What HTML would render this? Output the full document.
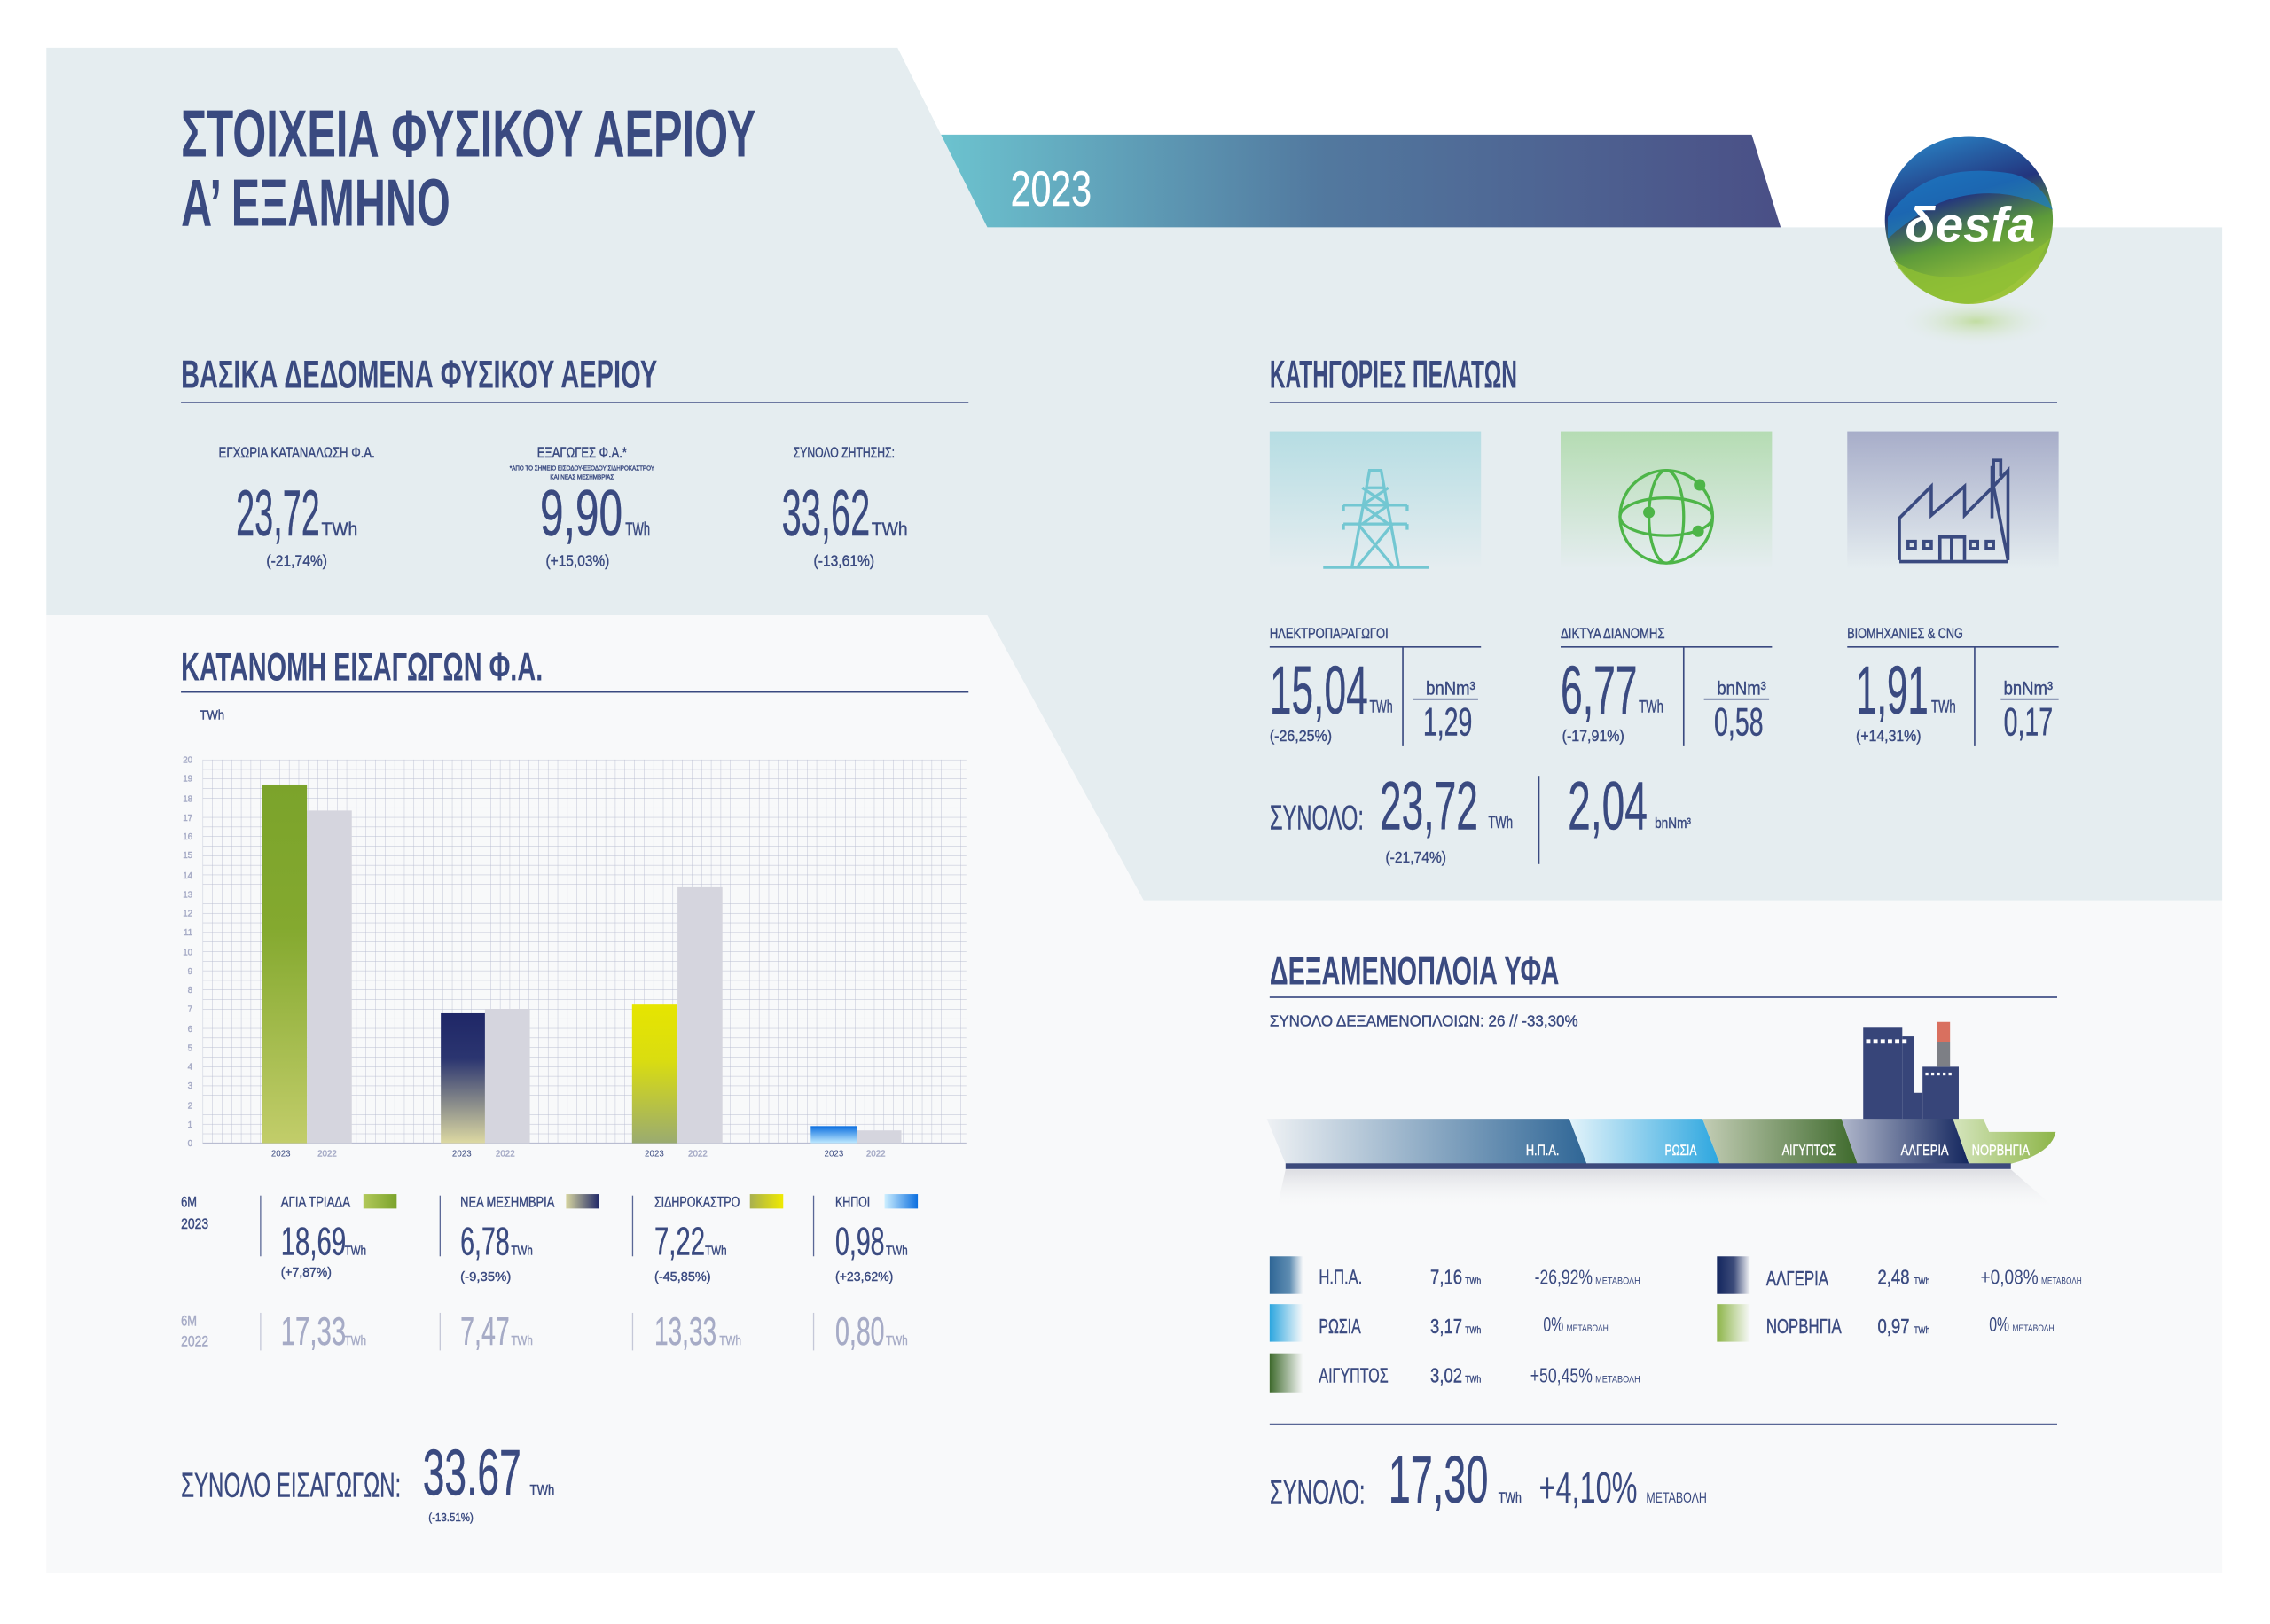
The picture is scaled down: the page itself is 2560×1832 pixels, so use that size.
<!DOCTYPE html>
<html><head><meta charset="utf-8"><style>
html,body{margin:0;padding:0;background:#fff}
svg{display:block}
text{font-family:"Liberation Sans","DejaVu Sans",sans-serif;fill:#3a4a80;stroke:#3a4a80;stroke-width:0.25}
.b{font-weight:bold;stroke-width:0}
.g{fill:#a6abc6;stroke:#a6abc6}
.w{fill:#fff;stroke:#fff}
.p{stroke:none}
</style></head><body>
<svg width="2560" height="1832" viewBox="0 0 1568 1122" preserveAspectRatio="none" xmlns="http://www.w3.org/2000/svg">
<defs>
<linearGradient id="rib" x1="0" x2="1"><stop offset="0" stop-color="#6cc3cf"/><stop offset="0.45" stop-color="#52799f"/><stop offset="1" stop-color="#4a4f86"/></linearGradient>
<linearGradient id="logo" x1="0" y1="0" x2="0.3" y2="1"><stop offset="0" stop-color="#2a8fd0"/><stop offset="0.45" stop-color="#23357e"/><stop offset="0.7" stop-color="#5c9a3a"/><stop offset="1" stop-color="#9cc43a"/></linearGradient>
<radialGradient id="shadow"><stop offset="0" stop-color="#b9d98e" stop-opacity="0.8"/><stop offset="1" stop-color="#e5edf0" stop-opacity="0"/></radialGradient>
<linearGradient id="box1" x1="0" y1="0" x2="0" y2="1"><stop offset="0" stop-color="#b6dde3"/><stop offset="1" stop-color="#e5edf0"/></linearGradient>
<linearGradient id="box2" x1="0" y1="0" x2="0" y2="1"><stop offset="0" stop-color="#b5dcb3"/><stop offset="1" stop-color="#e5edf0"/></linearGradient>
<linearGradient id="box3" x1="0" y1="0" x2="0" y2="1"><stop offset="0" stop-color="#a7adc9"/><stop offset="1" stop-color="#e5edf0"/></linearGradient>
<linearGradient id="bG" x1="0" y1="0" x2="0" y2="1"><stop offset="0" stop-color="#7ba32b"/><stop offset="0.4" stop-color="#84a92f"/><stop offset="1" stop-color="#c2cd6a"/></linearGradient>
<linearGradient id="bN" x1="0" y1="0" x2="0" y2="1"><stop offset="0" stop-color="#1f2767"/><stop offset="0.35" stop-color="#2b3570"/><stop offset="1" stop-color="#ddd9a2"/></linearGradient>
<linearGradient id="bY" x1="0" y1="0" x2="0" y2="1"><stop offset="0" stop-color="#e6e500"/><stop offset="0.4" stop-color="#dadd10"/><stop offset="1" stop-color="#9aab70"/></linearGradient>
<linearGradient id="bB" x1="0" y1="0" x2="0" y2="1"><stop offset="0" stop-color="#0b6fe0"/><stop offset="1" stop-color="#bfeaff"/></linearGradient>
<linearGradient id="sG" x1="0" x2="1"><stop offset="0" stop-color="#b2c95a"/><stop offset="1" stop-color="#7ba32b"/></linearGradient>
<linearGradient id="sN" x1="0" x2="1"><stop offset="0" stop-color="#d8d6a0"/><stop offset="1" stop-color="#1f2767"/></linearGradient>
<linearGradient id="sY" x1="0" x2="1"><stop offset="0" stop-color="#a8b050"/><stop offset="1" stop-color="#f0ea00"/></linearGradient>
<linearGradient id="sB" x1="0" x2="1"><stop offset="0" stop-color="#cdefff"/><stop offset="1" stop-color="#0b6fe0"/></linearGradient>
<linearGradient id="hUSA" x1="0" x2="1"><stop offset="0" stop-color="#eef1f4"/><stop offset="1" stop-color="#2f6696"/></linearGradient>
<linearGradient id="hRU" x1="0" x2="1"><stop offset="0" stop-color="#e3f3fa"/><stop offset="1" stop-color="#2ca6df"/></linearGradient>
<linearGradient id="hEG" x1="0" x2="1"><stop offset="0" stop-color="#c3cdb5"/><stop offset="1" stop-color="#3e6a2c"/></linearGradient>
<linearGradient id="hAL" x1="0" x2="1"><stop offset="0" stop-color="#b0b7cb"/><stop offset="1" stop-color="#13265e"/></linearGradient>
<linearGradient id="hNO" x1="0" x2="1"><stop offset="0" stop-color="#d5e5bd"/><stop offset="1" stop-color="#8db548"/></linearGradient>
<linearGradient id="refl" x1="0" y1="0" x2="0" y2="1"><stop offset="0" stop-color="#dcdde2"/><stop offset="1" stop-color="#f8f9fa" stop-opacity="0"/></linearGradient>
<linearGradient id="lUSA" x1="0" x2="1"><stop offset="0" stop-color="#2f6696"/><stop offset="0.6" stop-color="#5f8db2"/><stop offset="1" stop-color="#f8f9fa"/></linearGradient>
<linearGradient id="lRU" x1="0" x2="1"><stop offset="0" stop-color="#2ca6df"/><stop offset="1" stop-color="#f8f9fa"/></linearGradient>
<linearGradient id="lEG" x1="0" x2="1"><stop offset="0" stop-color="#3e6a2c"/><stop offset="1" stop-color="#f8f9fa"/></linearGradient>
<linearGradient id="lAL" x1="0" x2="1"><stop offset="0" stop-color="#13265e"/><stop offset="0.5" stop-color="#3c4b7a"/><stop offset="1" stop-color="#f8f9fa"/></linearGradient>
<linearGradient id="lNO" x1="0" x2="1"><stop offset="0" stop-color="#8db548"/><stop offset="1" stop-color="#f8f9fa"/></linearGradient>
<pattern id="grid" x="140" y="524.8" width="6.625" height="6.625" patternUnits="userSpaceOnUse"><path d="M0 0H6.625M0 0V6.625" stroke="#b9bdd1" stroke-width="0.55" fill="none"/></pattern>
</defs>

<rect x="32" y="425" width="1503" height="662" fill="#f8f9fa"/>
<polygon points="32,33 620,33 682,157 1535,157 1535,622 790,622 682,425 32,425" fill="#e5edf0"/>
<polygon points="650,93 1210,93 1230,157 682,157" fill="url(#rib)"/>
<text x="698" y="142" font-size="34" class="w" textLength="56" lengthAdjust="spacingAndGlyphs">2023</text>

<text x="125" y="108" font-size="46" class="b" textLength="397" lengthAdjust="spacingAndGlyphs">ΣΤΟΙΧΕΙΑ ΦΥΣΙΚΟΥ ΑΕΡΙΟΥ</text>
<text x="125" y="156" font-size="46" class="b" textLength="186" lengthAdjust="spacingAndGlyphs">Α’ ΕΞΑΜΗΝΟ</text>

<ellipse cx="1365" cy="222" rx="55" ry="18" fill="url(#shadow)"/>
<circle cx="1360" cy="152" r="58" fill="url(#logo)"/>
<path d="M1304 150 Q1330 110 1390 120 Q1410 125 1418 145 Q1380 125 1340 140 Q1320 150 1304 165 Z" fill="#1a7cc8" opacity="0.7"/>
<path d="M1308 180 Q1340 200 1380 185 Q1405 175 1416 165 Q1400 200 1360 210 Q1325 208 1308 180Z" fill="#8fbf35" opacity="0.8"/>
<text x="1316" y="167" font-size="34" class="w b" font-style="italic" textLength="90" lengthAdjust="spacingAndGlyphs">δesfa</text>

<text x="125" y="268" font-size="27" class="b" textLength="329" lengthAdjust="spacingAndGlyphs">ΒΑΣΙΚΑ ΔΕΔΟΜΕΝΑ ΦΥΣΙΚΟΥ ΑΕΡΙΟΥ</text>
<line x1="125" y1="278" x2="669" y2="278" stroke="#5a6796" stroke-width="1.2"/>
<text x="877" y="268" font-size="27" class="b" textLength="171" lengthAdjust="spacingAndGlyphs">ΚΑΤΗΓΟΡΙΕΣ ΠΕΛΑΤΩΝ</text>
<line x1="877" y1="278" x2="1421" y2="278" stroke="#5a6796" stroke-width="1.2"/>
<text x="125" y="470" font-size="27" class="b" textLength="250" lengthAdjust="spacingAndGlyphs">ΚΑΤΑΝΟΜΗ ΕΙΣΑΓΩΓΩΝ Φ.Α.</text>
<line x1="125" y1="478" x2="669" y2="478" stroke="#3a4a80" stroke-width="1.2"/>
<text x="877" y="680" font-size="27" class="b" textLength="200" lengthAdjust="spacingAndGlyphs">ΔΕΞΑΜΕΝΟΠΛΟΙΑ ΥΦΑ</text>
<line x1="877" y1="689" x2="1421" y2="689" stroke="#5a6796" stroke-width="1.2"/>

<text x="205" y="316" font-size="10" text-anchor="middle" textLength="108" lengthAdjust="spacingAndGlyphs">ΕΓΧΩΡΙΑ ΚΑΤΑΝΑΛΩΣΗ Φ.Α.</text>
<text x="402" y="316" font-size="10" text-anchor="middle" textLength="62" lengthAdjust="spacingAndGlyphs">ΕΞΑΓΩΓΕΣ Φ.Α.*</text>
<text x="402" y="325" font-size="4.5" text-anchor="middle" textLength="100" lengthAdjust="spacingAndGlyphs">*ΑΠΟ ΤΟ ΣΗΜΕΙΟ ΕΙΣΟΔΟΥ-ΕΞΟΔΟΥ ΣΙΔΗΡΟΚΑΣΤΡΟΥ</text>
<text x="402" y="331" font-size="4.5" text-anchor="middle" textLength="44" lengthAdjust="spacingAndGlyphs">ΚΑΙ ΝΕΑΣ ΜΕΣΗΜΒΡΙΑΣ</text>
<text x="583" y="316" font-size="10" text-anchor="middle" textLength="70" lengthAdjust="spacingAndGlyphs">ΣΥΝΟΛΟ ΖΗΤΗΣΗΣ:</text>
<text x="163" y="370" font-size="45" textLength="58" lengthAdjust="spacingAndGlyphs">23,72</text>
<text x="222" y="370" font-size="13" textLength="25" lengthAdjust="spacingAndGlyphs">TWh</text>
<text x="373" y="370" font-size="45" textLength="57" lengthAdjust="spacingAndGlyphs">9,90</text>
<text x="432" y="370" font-size="13" textLength="17" lengthAdjust="spacingAndGlyphs">TWh</text>
<text x="540" y="370" font-size="45" textLength="61" lengthAdjust="spacingAndGlyphs">33,62</text>
<text x="602" y="370" font-size="13" textLength="25" lengthAdjust="spacingAndGlyphs">TWh</text>
<text x="205" y="391" font-size="11" text-anchor="middle" textLength="42" lengthAdjust="spacingAndGlyphs">(-21,74%)</text>
<text x="399" y="391" font-size="11" text-anchor="middle" textLength="44" lengthAdjust="spacingAndGlyphs">(+15,03%)</text>
<text x="583" y="391" font-size="11" text-anchor="middle" textLength="42" lengthAdjust="spacingAndGlyphs">(-13,61%)</text>

<rect x="877" y="298" width="146" height="95" fill="url(#box1)"/>
<rect x="1078" y="298" width="146" height="95" fill="url(#box2)"/>
<rect x="1276" y="298" width="146" height="95" fill="url(#box3)"/>
<g stroke="#73c7d2" stroke-width="2" fill="none">
<path d="M914 392H987M934 391L946 325H954L966 391M943 337H957M928 349H972M928 362H972M941 349L959 362M959 349L941 362M941 337L959 349M959 337L941 349M938 362L962 391M962 362L938 391M928 349v4M972 349v4M928 362v4M972 362v4"/>
</g>
<g stroke="#4db548" stroke-width="2" fill="none">
<circle cx="1151" cy="357" r="32"/>
<ellipse cx="1151" cy="357" rx="32" ry="13"/>
<ellipse cx="1151" cy="357" rx="12" ry="32"/>
</g>
<g fill="#4db548"><circle cx="1174" cy="335" r="4"/><circle cx="1139" cy="354" r="4"/><circle cx="1173" cy="367" r="4"/></g>
<g stroke="#3a4a80" stroke-width="2.2" fill="none">
<path d="M1312 387V358L1334 336V356L1357 336V356L1377 336V329M1377 336L1387 325V387Z M1377 329V318H1382V329"/>
<path d="M1376 358V322"/>
<rect x="1318" y="374" width="5" height="5"/><rect x="1329" y="374" width="5" height="5"/><rect x="1361" y="374" width="5" height="5"/><rect x="1372" y="374" width="5" height="5"/>
<path d="M1340 387V371H1357V387M1348 371V387"/>
</g>
<line x1="1312" y1="388" x2="1387" y2="388" stroke="#3a4a80" stroke-width="2.2"/>

<text x="877" y="441" font-size="10" textLength="82" lengthAdjust="spacingAndGlyphs">ΗΛΕΚΤΡΟΠΑΡΑΓΩΓΟΙ</text>
<text x="1078" y="441" font-size="10" textLength="72" lengthAdjust="spacingAndGlyphs">ΔΙΚΤΥΑ ΔΙΑΝΟΜΗΣ</text>
<text x="1276" y="441" font-size="10" textLength="80" lengthAdjust="spacingAndGlyphs">ΒΙΟΜΗΧΑΝΙΕΣ &amp; CNG</text>
<g stroke="#3a4a80" stroke-width="1">
<line x1="877" y1="447" x2="1023" y2="447"/><line x1="1078" y1="447" x2="1224" y2="447"/><line x1="1276" y1="447" x2="1422" y2="447"/>
<line x1="969" y1="447" x2="969" y2="515"/><line x1="1163" y1="447" x2="1163" y2="515"/><line x1="1364" y1="447" x2="1364" y2="515"/>
<line x1="976" y1="483" x2="1021" y2="483"/><line x1="1177" y1="483" x2="1222" y2="483"/><line x1="1382" y1="483" x2="1422" y2="483"/>
<line x1="1063" y1="536" x2="1063" y2="597"/>
</g>
<text x="877" y="493" font-size="47" textLength="68" lengthAdjust="spacingAndGlyphs">15,04</text>
<text x="946" y="492" font-size="12" textLength="16" lengthAdjust="spacingAndGlyphs">TWh</text>
<text x="1078" y="493" font-size="47" textLength="53" lengthAdjust="spacingAndGlyphs">6,77</text>
<text x="1132" y="492" font-size="12" textLength="17" lengthAdjust="spacingAndGlyphs">TWh</text>
<text x="1282" y="493" font-size="47" textLength="50" lengthAdjust="spacingAndGlyphs">1,91</text>
<text x="1334" y="492" font-size="12" textLength="17" lengthAdjust="spacingAndGlyphs">TWh</text>
<text x="877" y="512" font-size="11" textLength="43" lengthAdjust="spacingAndGlyphs">(-26,25%)</text>
<text x="1079" y="512" font-size="11" textLength="43" lengthAdjust="spacingAndGlyphs">(-17,91%)</text>
<text x="1282" y="512" font-size="11" textLength="45" lengthAdjust="spacingAndGlyphs">(+14,31%)</text>
<text x="985" y="480" font-size="13" textLength="34" lengthAdjust="spacingAndGlyphs">bnNm³</text>
<text x="1186" y="480" font-size="13" textLength="34" lengthAdjust="spacingAndGlyphs">bnNm³</text>
<text x="1384" y="480" font-size="13" textLength="34" lengthAdjust="spacingAndGlyphs">bnNm³</text>
<text x="983" y="508" font-size="27" textLength="34" lengthAdjust="spacingAndGlyphs">1,29</text>
<text x="1184" y="508" font-size="27" textLength="34" lengthAdjust="spacingAndGlyphs">0,58</text>
<text x="1384" y="508" font-size="27" textLength="34" lengthAdjust="spacingAndGlyphs">0,17</text>
<text x="877" y="573" font-size="24" textLength="65" lengthAdjust="spacingAndGlyphs">ΣΥΝΟΛΟ:</text>
<text x="953" y="573" font-size="47" textLength="68" lengthAdjust="spacingAndGlyphs">23,72</text>
<text x="1028" y="572" font-size="12" textLength="17" lengthAdjust="spacingAndGlyphs">TWh</text>
<text x="957" y="596" font-size="11" textLength="42" lengthAdjust="spacingAndGlyphs">(-21,74%)</text>
<text x="1083" y="573" font-size="47" textLength="55" lengthAdjust="spacingAndGlyphs">2,04</text>
<text x="1143" y="572" font-size="10" textLength="25" lengthAdjust="spacingAndGlyphs">bnNm³</text>

<text x="138" y="497" font-size="9" textLength="17" lengthAdjust="spacingAndGlyphs">TWh</text>
<rect x="140" y="524.8" width="527.5" height="265" fill="url(#grid)"/>
<line x1="140" y1="789.8" x2="667.5" y2="789.8" stroke="#b9bdd1" stroke-width="0.8"/>
<g font-size="6" text-anchor="end">
<text x="133" y="792" class="g">0</text><text x="133" y="779" class="g">1</text><text x="133" y="766" class="g">2</text><text x="133" y="752" class="g">3</text><text x="133" y="739" class="g">4</text><text x="133" y="726" class="g">5</text><text x="133" y="713" class="g">6</text><text x="133" y="699" class="g">7</text><text x="133" y="686" class="g">8</text><text x="133" y="673" class="g">9</text><text x="133" y="660" class="g">10</text><text x="133" y="646" class="g">11</text><text x="133" y="633" class="g">12</text><text x="133" y="620" class="g">13</text><text x="133" y="607" class="g">14</text><text x="133" y="593" class="g">15</text><text x="133" y="580" class="g">16</text><text x="133" y="567" class="g">17</text><text x="133" y="554" class="g">18</text><text x="133" y="540" class="g">19</text><text x="133" y="527" class="g">20</text>
</g>
<rect x="181" y="542" width="31" height="247.8" fill="url(#bG)"/>
<rect x="212" y="560" width="31" height="229.8" fill="#d5d5de"/>
<rect x="304.5" y="700" width="30.5" height="89.8" fill="url(#bN)"/>
<rect x="335" y="697" width="31" height="92.8" fill="#d5d5de"/>
<rect x="436.6" y="694" width="31.4" height="95.8" fill="url(#bY)"/>
<rect x="468" y="613" width="31" height="176.8" fill="#d5d5de"/>
<rect x="560" y="778" width="32" height="11.8" fill="url(#bB)"/>
<rect x="592" y="781" width="30.6" height="8.8" fill="#d5d5de"/>
<g font-size="6" text-anchor="middle">
<text x="194" y="799" class="p" fill="#6a7299">2023</text><text x="226" y="799" class="g">2022</text>
<text x="319" y="799" class="p" fill="#6a7299">2023</text><text x="349" y="799" class="g">2022</text>
<text x="452" y="799" class="p" fill="#6a7299">2023</text><text x="482" y="799" class="g">2022</text>
<text x="576" y="799" class="p" fill="#6a7299">2023</text><text x="605" y="799" class="g">2022</text>
</g>

<text x="125" y="834" font-size="10" textLength="11" lengthAdjust="spacingAndGlyphs">6M</text>
<text x="125" y="849" font-size="10" textLength="19" lengthAdjust="spacingAndGlyphs">2023</text>
<text x="125" y="916" font-size="10" class="g" textLength="11" lengthAdjust="spacingAndGlyphs">6M</text>
<text x="125" y="930" font-size="10" class="g" textLength="19" lengthAdjust="spacingAndGlyphs">2022</text>
<g stroke="#5a6796" stroke-width="0.8">
<line x1="180" y1="826" x2="180" y2="868"/><line x1="304" y1="826" x2="304" y2="868"/><line x1="437" y1="826" x2="437" y2="868"/><line x1="562" y1="826" x2="562" y2="868"/>
</g>
<g stroke="#c5c8d8" stroke-width="0.8">
<line x1="180" y1="907" x2="180" y2="933"/><line x1="304" y1="907" x2="304" y2="933"/><line x1="437" y1="907" x2="437" y2="933"/><line x1="562" y1="907" x2="562" y2="933"/>
</g>
<text x="194" y="834" font-size="10" textLength="48" lengthAdjust="spacingAndGlyphs">ΑΓΙΑ ΤΡΙΑΔΑ</text>
<rect x="251" y="825" width="23" height="10" fill="url(#sG)"/>
<text x="318" y="834" font-size="10" textLength="65" lengthAdjust="spacingAndGlyphs">ΝΕΑ ΜΕΣΗΜΒΡΙΑ</text>
<rect x="391" y="825" width="23" height="10" fill="url(#sN)"/>
<text x="452" y="834" font-size="10" textLength="59" lengthAdjust="spacingAndGlyphs">ΣΙΔΗΡΟΚΑΣΤΡΟ</text>
<rect x="518" y="825" width="23" height="10" fill="url(#sY)"/>
<text x="577" y="834" font-size="10" textLength="24" lengthAdjust="spacingAndGlyphs">ΚΗΠΟΙ</text>
<rect x="611" y="825" width="23" height="10" fill="url(#sB)"/>

<text x="194" y="867" font-size="27" textLength="45" lengthAdjust="spacingAndGlyphs">18,69</text><text x="238" y="867" font-size="9" textLength="15" lengthAdjust="spacingAndGlyphs">TWh</text>
<text x="318" y="867" font-size="27" textLength="34" lengthAdjust="spacingAndGlyphs">6,78</text><text x="353" y="867" font-size="9" textLength="15" lengthAdjust="spacingAndGlyphs">TWh</text>
<text x="452" y="867" font-size="27" textLength="35" lengthAdjust="spacingAndGlyphs">7,22</text><text x="487" y="867" font-size="9" textLength="15" lengthAdjust="spacingAndGlyphs">TWh</text>
<text x="577" y="867" font-size="27" textLength="34" lengthAdjust="spacingAndGlyphs">0,98</text><text x="612" y="867" font-size="9" textLength="15" lengthAdjust="spacingAndGlyphs">TWh</text>
<text x="194" y="882" font-size="9" textLength="35" lengthAdjust="spacingAndGlyphs">(+7,87%)</text>
<text x="318" y="885" font-size="9" textLength="35" lengthAdjust="spacingAndGlyphs">(-9,35%)</text>
<text x="452" y="885" font-size="9" textLength="39" lengthAdjust="spacingAndGlyphs">(-45,85%)</text>
<text x="577" y="885" font-size="9" textLength="40" lengthAdjust="spacingAndGlyphs">(+23,62%)</text>

<text x="194" y="929" font-size="27" class="g" textLength="45" lengthAdjust="spacingAndGlyphs">17,33</text><text x="238" y="929" font-size="9" class="g" textLength="15" lengthAdjust="spacingAndGlyphs">TWh</text>
<text x="318" y="929" font-size="27" class="g" textLength="34" lengthAdjust="spacingAndGlyphs">7,47</text><text x="353" y="929" font-size="9" class="g" textLength="15" lengthAdjust="spacingAndGlyphs">TWh</text>
<text x="452" y="929" font-size="27" class="g" textLength="43" lengthAdjust="spacingAndGlyphs">13,33</text><text x="497" y="929" font-size="9" class="g" textLength="15" lengthAdjust="spacingAndGlyphs">TWh</text>
<text x="577" y="929" font-size="27" class="g" textLength="34" lengthAdjust="spacingAndGlyphs">0,80</text><text x="612" y="929" font-size="9" class="g" textLength="15" lengthAdjust="spacingAndGlyphs">TWh</text>

<text x="125" y="1034" font-size="24" textLength="152" lengthAdjust="spacingAndGlyphs">ΣΥΝΟΛΟ ΕΙΣΑΓΩΓΩΝ:</text>
<text x="292" y="1033" font-size="45" textLength="68" lengthAdjust="spacingAndGlyphs">33.67</text>
<text x="366" y="1033" font-size="10" textLength="17" lengthAdjust="spacingAndGlyphs">TWh</text>
<text x="296" y="1051" font-size="8" textLength="31" lengthAdjust="spacingAndGlyphs">(-13.51%)</text>

<text x="877" y="709" font-size="11" textLength="213" lengthAdjust="spacingAndGlyphs">ΣΥΝΟΛΟ ΔΕΞΑΜΕΝΟΠΛΟΙΩΝ: 26   //   -33,30%</text>
<g fill="#374579">
<rect x="1287" y="710" width="27" height="64"/>
<rect x="1314" y="716" width="8" height="58"/>
<rect x="1322" y="755" width="6" height="19"/>
<rect x="1328" y="737" width="25" height="37"/>
</g>
<rect x="1338" y="706" width="9" height="14" fill="#d9705f"/>
<rect x="1338" y="720" width="9" height="17" fill="#7d7f85"/>
<g fill="#fff">
<rect x="1289" y="718" width="3" height="3"/><rect x="1294" y="718" width="3" height="3"/><rect x="1299" y="718" width="3" height="3"/><rect x="1304" y="718" width="3" height="3"/><rect x="1309" y="718" width="3" height="3"/><rect x="1314" y="718" width="3" height="3"/>
<rect x="1330" y="741" width="2" height="2"/><rect x="1334" y="741" width="2" height="2"/><rect x="1338" y="741" width="2" height="2"/><rect x="1342" y="741" width="2" height="2"/><rect x="1346" y="741" width="2" height="2"/>
</g>
<polygon points="888,808 1389,808 1420,835 882,835" fill="url(#refl)"/>
<polygon points="875,773 1084,773 1096,804 888,804" fill="url(#hUSA)"/>
<polygon points="1084,773 1176,773 1188,804 1096,804" fill="url(#hRU)"/>
<polygon points="1176,773 1272,773 1283,804 1188,804" fill="url(#hEG)"/>
<polygon points="1272,773 1349,773 1360,804 1283,804" fill="url(#hAL)"/>
<path d="M1349,773 L1370,773 L1374,782 L1420,782 Q1417,797 1389,804 L1360,804 Z" fill="url(#hNO)"/>
<rect x="888" y="803.7" width="501" height="4" fill="#3c4a7c"/>
<g font-size="10" text-anchor="end">
<text x="1077" y="798" class="w" textLength="23" lengthAdjust="spacingAndGlyphs">Η.Π.Α.</text>
<text x="1172" y="798" class="w" textLength="22" lengthAdjust="spacingAndGlyphs">ΡΩΣΙΑ</text>
<text x="1268" y="798" class="w" textLength="37" lengthAdjust="spacingAndGlyphs">ΑΙΓΥΠΤΟΣ</text>
<text x="1346" y="798" class="w" textLength="33" lengthAdjust="spacingAndGlyphs">ΑΛΓΕΡΙΑ</text>
<text x="1402" y="798" class="w" textLength="40" lengthAdjust="spacingAndGlyphs">ΝΟΡΒΗΓΙΑ</text>
</g>

<rect x="877" y="868" width="23" height="26" fill="url(#lUSA)"/>
<rect x="877" y="901" width="23" height="26" fill="url(#lRU)"/>
<rect x="877" y="935" width="23" height="27" fill="url(#lEG)"/>
<rect x="1186" y="868" width="23" height="26" fill="url(#lAL)"/>
<rect x="1186" y="901" width="23" height="26" fill="url(#lNO)"/>
<text x="911" y="887" font-size="14" textLength="30" lengthAdjust="spacingAndGlyphs">Η.Π.Α.</text>
<text x="911" y="921" font-size="14" textLength="29" lengthAdjust="spacingAndGlyphs">ΡΩΣΙΑ</text>
<text x="911" y="955" font-size="14" textLength="48" lengthAdjust="spacingAndGlyphs">ΑΙΓΥΠΤΟΣ</text>
<text x="1220" y="888" font-size="14" textLength="43" lengthAdjust="spacingAndGlyphs">ΑΛΓΕΡΙΑ</text>
<text x="1220" y="921" font-size="14" textLength="52" lengthAdjust="spacingAndGlyphs">ΝΟΡΒΗΓΙΑ</text>
<text x="988" y="887" font-size="14" textLength="22" lengthAdjust="spacingAndGlyphs">7,16</text><text x="1012" y="887" font-size="7" textLength="11" lengthAdjust="spacingAndGlyphs">TWh</text>
<text x="988" y="921" font-size="14" textLength="22" lengthAdjust="spacingAndGlyphs">3,17</text><text x="1012" y="921" font-size="7" textLength="11" lengthAdjust="spacingAndGlyphs">TWh</text>
<text x="988" y="955" font-size="14" textLength="22" lengthAdjust="spacingAndGlyphs">3,02</text><text x="1012" y="955" font-size="7" textLength="11" lengthAdjust="spacingAndGlyphs">TWh</text>
<text x="1297" y="887" font-size="14" textLength="22" lengthAdjust="spacingAndGlyphs">2,48</text><text x="1322" y="887" font-size="7" textLength="11" lengthAdjust="spacingAndGlyphs">TWh</text>
<text x="1297" y="921" font-size="14" textLength="22" lengthAdjust="spacingAndGlyphs">0,97</text><text x="1322" y="921" font-size="7" textLength="11" lengthAdjust="spacingAndGlyphs">TWh</text>
<text x="1060" y="887" font-size="14" class="p" fill="#8a90b5" textLength="40" lengthAdjust="spacingAndGlyphs">-26,92%</text><text x="1102" y="887" font-size="6.5" class="p" fill="#8a90b5" textLength="31" lengthAdjust="spacingAndGlyphs">ΜΕΤΑΒΟΛΗ</text>
<text x="1066" y="920" font-size="14" class="p" fill="#8a90b5" textLength="14" lengthAdjust="spacingAndGlyphs">0%</text><text x="1082" y="920" font-size="6.5" class="p" fill="#8a90b5" textLength="29" lengthAdjust="spacingAndGlyphs">ΜΕΤΑΒΟΛΗ</text>
<text x="1057" y="955" font-size="14" class="p" fill="#8a90b5" textLength="43" lengthAdjust="spacingAndGlyphs">+50,45%</text><text x="1102" y="955" font-size="6.5" class="p" fill="#8a90b5" textLength="31" lengthAdjust="spacingAndGlyphs">ΜΕΤΑΒΟΛΗ</text>
<text x="1368" y="887" font-size="14" class="p" fill="#8a90b5" textLength="40" lengthAdjust="spacingAndGlyphs">+0,08%</text><text x="1410" y="887" font-size="6.5" class="p" fill="#8a90b5" textLength="28" lengthAdjust="spacingAndGlyphs">ΜΕΤΑΒΟΛΗ</text>
<text x="1374" y="920" font-size="14" class="p" fill="#8a90b5" textLength="14" lengthAdjust="spacingAndGlyphs">0%</text><text x="1390" y="920" font-size="6.5" class="p" fill="#8a90b5" textLength="29" lengthAdjust="spacingAndGlyphs">ΜΕΤΑΒΟΛΗ</text>
<line x1="877" y1="984" x2="1421" y2="984" stroke="#5a6796" stroke-width="1.2"/>
<text x="877" y="1039" font-size="24" textLength="66" lengthAdjust="spacingAndGlyphs">ΣΥΝΟΛΟ:</text>
<text x="959" y="1038" font-size="46" textLength="69" lengthAdjust="spacingAndGlyphs">17,30</text>
<text x="1035" y="1038" font-size="10" textLength="16" lengthAdjust="spacingAndGlyphs">TWh</text>
<text x="1063" y="1038" font-size="30" class="p" fill="#8a90b5" textLength="68" lengthAdjust="spacingAndGlyphs">+4,10%</text>
<text x="1137" y="1038" font-size="10" class="p" fill="#8a90b5" textLength="42" lengthAdjust="spacingAndGlyphs">ΜΕΤΑΒΟΛΗ</text>
</svg>
</body></html>
